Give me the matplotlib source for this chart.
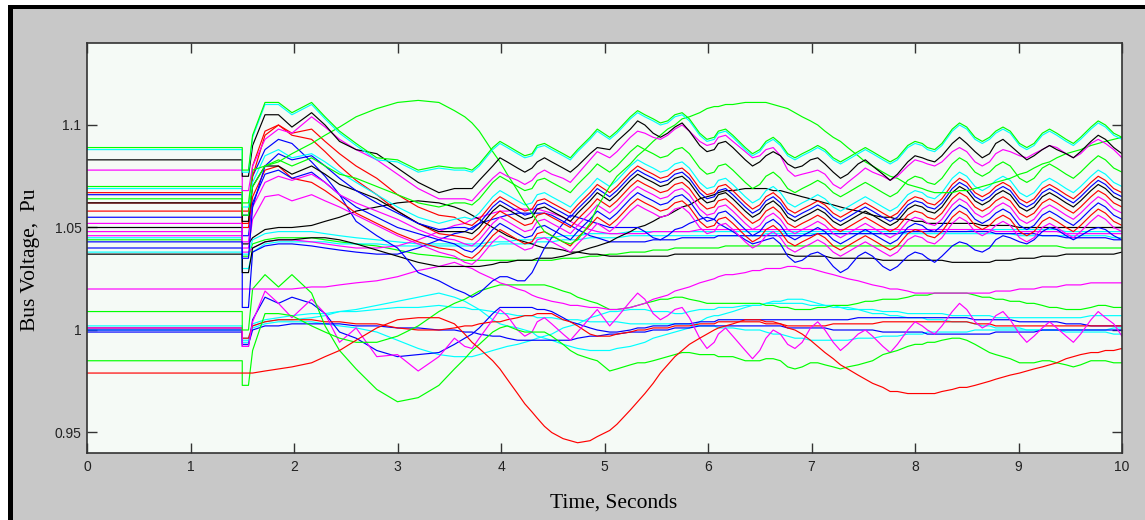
import numpy as np
import matplotlib
matplotlib.use("Agg")
import matplotlib.pyplot as plt
from matplotlib.patches import Rectangle

# Sample instants (s): start, fault step at 1.5 s (before / after), early swing, then the
# electromechanical oscillation read at every crest / trough and on both of its flanks
t = [0, 1.5, 1.5, 1.56, 1.6, 1.72, 1.85, 1.98, 2.17, 2.3, 2.44, 2.6, 2.8, 3.0, 3.2, 3.4, 3.55,
     3.65, 3.72, 3.79, 3.92, 3.99, 4.06, 4.16, 4.23, 4.30, 4.35, 4.42, 4.49, 4.60, 4.67, 4.74,
     4.86, 4.93, 5.05, 5.12,
     5.25, 5.32, 5.39, 5.47, 5.54, 5.61, 5.68, 5.75, 5.82, 5.92, 5.99, 6.06, 6.10, 6.17, 6.24,
     6.36, 6.43, 6.50, 6.56, 6.63, 6.70, 6.77, 6.84, 6.91, 6.99, 7.06, 7.13, 7.21, 7.28, 7.35,
     7.45, 7.52, 7.59, 7.69, 7.76, 7.83, 7.93, 8.00, 8.07, 8.12, 8.19, 8.26, 8.36, 8.43, 8.50,
     8.58, 8.65, 8.72, 8.78, 8.85, 8.92, 9.01, 9.08, 9.15, 9.23, 9.30, 9.37, 9.46, 9.53, 9.60,
     9.70, 9.77, 9.84, 9.92, 10.0]

# Bus voltages, deviation from 1.0 pu in units of 0.001 pu
green_top = [89,89,78,78,95,111,111,106,111,104,97,91,84,83,78,80,79,
    79,78,81, 89,92,90, 87,85,86, 90,91,89, 86,84,88, 94,98, 94,97,
    104,107,105, 103,101,102, 105,106,103, 96,93,94, 97,98,95, 89,86,88, 92,94,91, 86,84,86,
    88,90,88, 84,82,84, 87,89,87, 84,82,84, 90,92,91, 89,88,91, 98,101,99, 94,92,94, 97,99,97,
    91,89,91, 96,98,96, 93,91,94, 99,102,100, 96,94]
cyan_top = [88,88,77,77,94,110,110,105,110,103,96,90,83,82,77,79,78,
    78,77,80, 88,91,89, 86,84,85, 89,90,88, 85,83,87, 93,97, 93,96,
    103,106,104, 102,100,101, 104,105,102, 95,92,93, 96,97,94, 88,85,87, 91,93,90, 85,83,85,
    87,89,87, 83,81,83, 86,88,86, 83,81,83, 89,91,90, 88,87,90, 97,100,98, 93,91,93, 96,98,96,
    90,88,90, 95,97,95, 92,90,93, 98,101,99, 95,93]
black_top = [83,83,75,75,90,105,105,99,106,100,92,88,86,79,72,67,69,
    69,69,73, 80,84,82, 79,77,79, 82,84,82, 79,77,80, 86,89, 88,92,
    98,102,100, 96,94,96, 99,101,97, 90,87,88, 91,92,89, 83,80,82, 85,87,85, 81,79,80,
    83,84,81, 77,74,76, 81,83,80, 76,73,76, 82,85,84, 83,82,85, 91,94,91, 87,84,86, 91,93,90,
    86,83,85, 88,90,88, 86,84,87, 92,95,93, 89,86]
magenta_top = [78,78,68,68,80,93,98,96,104,99,93,88,83,76,69,64,64,
    64,63,67, 74,77,75, 73,71,73, 76,78,76, 74,72,76, 83,87, 84,87,
    94,97,96, 94,93,95, 98,100,97, 92,90,91, 94,95,92, 87,84,85, 88,89,85, 78,75,76,
    77,78,76, 71,69,72, 76,79,77, 75,73,75, 80,83,82, 81,80,82, 87,89,87, 82,80,82, 86,88,87,
    85,84,86, 88,90,89, 86,84,86, 91,93,91, 88,84]
green_arc = [70,70,62,62,78,80,82,86,91,95,99,104,108,111,112,111,107,
    104,101,97, 87,82,76, 68,62,57, 53,48,46, 43,42,44, 52,60, 70,75,
    81,85,88, 92,95,98, 100,103,104, 106,108,109, 109,110,110, 111,111,111, 111,110,109,
    108,106,104, 102,100,97, 94,92,89, 85,82,80, 77,75,74, 71,70,69, 68,67,67, 67,68,68,
    69,70,71, 72,73,74, 76,77,79, 81,82,84, 86,87,88, 90,91,92, 93,94]
green_mid = [64,64,56,56,70,80,83,80,84,80,76,74,70,66,62,60,62,
    62,61,64, 72,75,73, 70,68,69, 73,74,72, 69,67,71, 77,81, 77,80,
    87,90,88, 86,84,85, 88,89,86, 79,76,77, 80,81,78, 72,69,71, 75,77,74, 69,67,69,
    71,73,71, 67,65,67, 70,72,70, 67,65,67, 73,75,74, 72,71,74, 81,84,82, 77,75,77, 80,82,80,
    74,72,74, 79,81,79, 76,74,77, 82,85,83, 79,77]
cyan_mid = [69,69,60,60,72,85,88,84,86,82,77,72,66,60,55,52,54,
    55,54,57, 65,68,66, 63,61,62, 66,67,65, 62,60,64, 70,74, 70,73,
    80,83,81, 79,77,78, 81,82,79, 72,69,70, 73,74,71, 65,62,64, 68,70,67, 62,60,62,
    64,66,64, 60,58,60, 63,65,63, 60,58,60, 66,68,67, 65,64,67, 74,77,75, 70,68,70, 73,75,73,
    67,65,67, 72,74,72, 69,67,70, 75,78,76, 72,70]
red_mid1 = [67,67,58,58,75,95,100,96,98,92,86,80,74,66,60,56,55,
    52,51,54, 62,65,63, 60,58,59, 63,64,62, 59,57,61, 67,71, 67,70,
    77,80,78, 76,74,75, 78,79,76, 69,66,67, 70,71,68, 62,59,61, 65,67,64, 59,57,59,
    61,63,61, 57,55,57, 60,62,60, 57,55,57, 63,65,64, 62,61,64, 71,74,72, 67,65,67, 70,72,70,
    64,62,64, 69,71,69, 66,64,67, 72,75,73, 69,67]
blue_mid1 = [43,43,35,35,60,80,86,83,85,80,74,68,62,57,52,49,50,
    50,49,52, 60,63,61, 58,56,57, 61,62,60, 57,55,59, 65,69, 65,68,
    75,78,76, 74,72,73, 76,77,74, 67,64,65, 68,69,66, 60,57,59, 63,65,62, 57,55,57,
    59,61,59, 55,53,55, 58,60,58, 55,53,55, 61,63,62, 60,59,62, 69,72,70, 65,63,65, 68,70,68,
    62,60,62, 67,69,67, 64,62,65, 70,73,71, 67,65]
black_mid = [62,62,53,53,70,80,80,76,80,76,71,68,64,58,52,48,48,
    48,47,50, 58,61,59, 56,54,55, 59,60,58, 55,53,57, 63,67, 63,66,
    73,76,74, 72,70,71, 74,75,72, 65,62,63, 66,67,64, 58,55,57, 61,63,60, 55,53,55,
    57,59,57, 53,51,53, 56,58,56, 53,51,53, 59,61,60, 58,57,60, 67,70,68, 63,61,63, 66,68,66,
    60,58,60, 65,67,65, 62,60,63, 68,71,69, 65,63]
red_mid2 = [62,62,52,52,80,97,100,95,93,87,80,73,66,58,52,47,46,
    45,44,47, 55,58,56, 53,51,52, 56,57,55, 52,50,54, 60,64, 60,63,
    70,73,71, 69,67,68, 71,72,69, 62,59,60, 63,64,61, 55,52,54, 58,60,57, 52,50,52,
    54,56,54, 50,48,50, 53,55,53, 50,48,50, 56,58,57, 55,54,57, 64,67,65, 60,58,60, 63,65,63,
    57,55,57, 62,64,62, 59,57,60, 65,68,66, 62,60]
magenta_mid1 = [52,52,43,43,60,72,75,73,76,72,66,62,58,54,49,45,44,
    42,41,44, 52,55,53, 50,48,49, 53,54,52, 49,47,51, 57,61, 57,60,
    67,70,68, 66,64,65, 68,69,66, 59,56,57, 60,61,58, 52,49,51, 55,57,54, 49,47,49,
    51,53,51, 47,45,47, 50,52,50, 47,45,47, 53,55,54, 52,51,54, 61,64,62, 57,55,57, 60,62,60,
    54,52,54, 59,61,59, 56,54,57, 62,65,63, 59,57]
blue_mid2 = [55,55,46,46,62,76,78,74,77,72,66,60,55,50,47,44,42,
    39,38,41, 49,52,50, 47,45,46, 50,51,49, 46,44,48, 54,58, 54,57,
    64,67,65, 63,61,62, 65,66,63, 56,53,54, 57,58,55, 49,46,48, 52,54,51, 46,44,46,
    48,50,48, 44,42,44, 47,49,47, 44,42,44, 50,52,51, 49,48,51, 58,61,59, 54,52,54, 57,59,57,
    51,49,51, 56,58,56, 53,51,54, 59,62,60, 56,54]
red_mid3 = [58,58,50,50,65,78,80,74,72,68,63,57,52,47,43,40,39,
    36,35,38, 46,49,47, 44,42,43, 47,48,46, 43,41,45, 51,55, 51,54,
    61,64,62, 60,58,59, 62,63,60, 53,50,51, 54,55,52, 46,43,45, 49,51,48, 43,41,43,
    45,47,45, 41,39,41, 44,46,44, 41,39,41, 47,49,48, 46,45,48, 55,58,56, 51,49,51, 54,56,54,
    48,46,48, 53,55,53, 50,48,51, 56,59,57, 53,51]
magenta_mid2 = [48,48,40,40,54,65,66,63,66,63,60,56,51,46,42,38,36,
    33,32,35, 43,46,44, 41,39,40, 44,45,43, 40,38,42, 48,52, 48,51,
    58,61,59, 57,55,56, 59,60,57, 50,47,48, 51,52,49, 43,40,42, 46,48,45, 40,38,40,
    42,44,42, 38,36,38, 41,43,41, 38,36,38, 44,46,45, 43,42,45, 52,55,53, 48,46,48, 51,53,51,
    45,43,45, 50,52,50, 47,45,48, 53,56,54, 50,48]
blue_swing = [66,66,56,56,75,88,93,91,82,75,66,53,46,40,28,24,20,
    18,16,18, 24,26,26, 24,24,28, 33,40,45, 52,56,55, 53,52, 50,50,
    50,50,48, 45,44,46, 49,50,52, 54,55,54, 52,50,48, 44,42,43, 44,45,42, 36,33,34,
    37,38,36, 31,28,30, 36,38,36, 31,29,31, 36,38,37, 35,33,36, 41,43,42, 39,38,40, 44,46,45,
    43,42,44, 48,50,49, 46,44,46, 49,50,49, 46,44]
black_low1 = [37,37,28,28,40,43,44,44,45,45,44,42,39,36,33,31,31,
    31,31,31, 32,33,33, 34,34,34, 35,35,35, 36,37,38, 40,41, 43,45,
    48,50,51, 53,55,56, 58,60,61, 64,65,66, 67,68,68, 69,69,69, 69,68,68, 67,66,65,
    64,63,62, 61,60,59, 58,57,56, 55,55,54, 54,53,53, 52,52,52, 52,52,52, 52,51,51, 51,51,51,
    50,50,50, 50,50,50, 50,50,50, 50,50,50, 50,50]
black_low2 = [50,50,42,42,45,49,50,50,51,53,55,58,60,62,63,62,60,
    58,56,54, 50,48,46, 44,43,42, 41,40,40, 39,38,38, 37,37, 36,36,
    36,36,36, 36,36,36, 37,37,37, 37,37,37, 37,37,37, 37,37,37, 37,37,37, 37,36,36,
    36,36,36, 35,35,35, 35,35,35, 34,34,34, 34,34,34, 34,34,34, 33,33,33, 33,33,33, 34,34,34,
    35,35,35, 36,36,36, 37,37,37, 37,37,37, 37,38]
blue_low = ([40,40,11,11,38,41,42,42,41,40,39,38,37,37,40,44,47,
    48,50,52, 54,55,56, 57,57,57, 57,57,56, 53,51,49, 46,45, 43,43,
    43,43,43, 44,44,44, 44,45,45, 45,45,45] + [46] * 12 + [46,47,47] + [47] * 9
    + [48] * 12 + [47] * 6 + [46,46,46] + [45] * 6 + [44,44])
magenta_low = ([46,46,38,38,40,43,44,44,43,42,41,40,40,41,44,48,51,
    52,54,55, 57,58,58, 59,59,59, 59,58,57, 55,53,51, 49,48, 47,47,
    47,47,47, 48,48,48, 48,48,48] + [49] * 39 + [48] * 9 + [47] * 6 + [47,47])
cyan_low1 = ([38,38,30,30,38,42,43,43,43,43,42,42,42,41,41,41,41,
    41,41,41, 41,42,42, 42,42,42, 43,43,43, 44,44,44, 45,45, 45,45]
    + [46] * 18 + [47] * 33 + [46] * 12 + [45,45])
cyan_low2 = ([45,45,37,37,44,47,48,48,48,47,46,45,44,43,42,42,42,
    42,42,42, 43,43,43, 44,44,44, 45,45,45, 46,46,46, 47,47, 47,47]
    + [48] * 45 + [49] * 12 + [48] * 6 + [48,48])
green_low = ([44,44,36,36,42,44,45,45,45,44,43,42,41,39,37,36,35,
    34,34,34, 34,34,34, 34,34,34, 34,34,34, 35,35,35, 36,36, 37,37,
    38,38,38, 39,39,39, 40,40,40, 40,40,40, 40,41,41] + [41] * 42 + [40] * 6 + [40,40])
magenta_102 = [20,20,20,20,20,20,20,20,21,21,22,23,24,26,29,31,33,
    31,30,28, 25,23,22, 20,19,17, 16,15,14, 13,12,12, 11,11, 10,10,
    11,12,13, 15,16,17, 19,20,21, 23,24,25, 26,27,27, 28,29,29, 30,30,30, 31,31,30,
    30,29,28, 27,26,25, 24,23,22, 21,20,20, 19,18,18, 18,18,18, 18,18,18, 18,18,18, 19,19,19,
    20,20,20, 21,21,21, 22,22,22, 23,23,23, 23,23]
green_dip = [9,9,0,0,20,27,21,27,18,2,-10,-19,-29,-35,-33,-27,-19,
    -14,-10,-7, -1,1,2, 0,-1,-1, -1,-1,-3, -7,-10,-12, -14,-15, -20,-19,
    -17,-16,-16, -15,-14,-13, -12,-11,-11, -12,-12,-12, -13,-13,-13, -15,-15,-15, -14,-14,-15,
    -18,-19,-18, -16,-16,-17, -18,-19,-18, -17,-16,-15, -12,-11,-10, -8,-7,-7, -6,-6,-5,
    -4,-4,-5, -7,-9,-11, -12,-13,-14, -16,-16,-16, -15,-15,-16, -17,-18,-17, -15,-15,-15, -16,-16]
green_098 = [-15,-15,-27,-27,-10,8,8,7,2,-1,-4,-6,-6,-3,2,9,13,
    15,17,19, 21,22,22, 22,22,22, 22,22,21, 19,18,16, 14,13, 10,10,
    11,12,13, 14,15,15, 16,16,15, 14,13,13, 13,13,13, 13,13,13, 12,12,11, 11,10,10,
    10,11,11, 12,12,12, 13,14,14, 15,15,15, 16,17,17, 17,18,18, 18,18,18, 17,16,16, 15,15,14,
    14,13,13, 12,11,11, 10,10,10, 11,12,12, 11,11]
red_dip = [-21,-21,-21,-21,-21,-20,-19,-18,-16,-13,-10,-5,1,5,6,6,3,
    -2,-6,-9, -15,-19,-24, -31,-36,-40, -43,-47,-50, -53,-54,-55, -54,-52, -49,-46,
    -39,-35,-31, -26,-21,-17, -13,-10,-7, -4,-2,0, 1,2,3, 5,5,5, 4,4,3, 1,0,-2,
    -5,-8,-11, -14,-17,-19, -22,-24,-26, -28,-30,-30, -31,-31,-31, -31,-31,-30, -29,-28,-28,
    -27,-26,-25, -24,-23,-22, -21,-20,-19, -18,-17,-16, -14,-13,-12, -11,-11,-10, -10,-9]
red_100 = [1,1,-4,-4,2,4,5,5,5,4,4,3,3,1,0,0,1,
    2,2,3, 4,4,5, 6,7,7, 8,8,8, 5,4,2, -2,-3, -3,-2,
    -1,0,0, 1,1,1, 2,2,2, 3,3,3, 4,4,4, 4,4,4, 3,3,3, 2,2,2, 2,2,2, 3,3,3, 3,3,3,
    4,4,4, 4,4,4, 4,4,4, 4,4,4, 3,3,3, 2,2,2, 2,2,2, 2,2,2, 2,2,2, 2,2,2, 2,2]
magenta_osc = [1,1,-8,-8,4,19,13,6,15,8,-6,1,-13,-12,-20,-13,-4,
    -8,-9,-4, 5,10,7, 0,-3,-1, 4,6,3, -2,-5,-1, 6,10, 2,6,
    14,18,15, 8,5,7, 10,11,6, -4,-9,-6, -2,1,-3, -10,-14,-10, -4,0,-2, -7,-9,-6,
    1,4,0, -6,-10,-7, -2,0,-3, -8,-11,-7, 0,4,2, 0,-2,2, 9,13,10, 4,1,3, 7,9,5,
    -2,-6,-3, 1,4,1, -3,-6,-2, 5,9,6, 3,-3]
blue_100a = [0,0,-8,-8,5,16,13,16,13,8,-1,-4,-10,-13,-12,-11,-7,
    -4,-2,1, 8,11,11, 11,11,11, 10,10,9, 6,4,3, 1,0, -1,-1,
    0,1,1, 2,2,2, 3,3,3, 4,4,4, 5,5,5, 5,5,5, 5,5,5, 5,5,5, 5,5,5, 5,5,5, 6,6,6,
    6,6,6, 6,6,6, 6,6,6, 6,6,6, 5,5,5, 5,5,5, 4,4,4, 4,4,4, 3,3,3, 2,2,2, 2,2]
blue_100b = [-1,-1,-7,-7,0,2,2,3,3,3,3,2,2,1,1,0,0,
    -1,-1,-2, -3,-3,-4, -5,-5,-5, -5,-5,-5, -5,-5,-4, -3,-3, -2,-2,
    -1,-1,-1, 0,0,0, 1,1,1, 2,2,2, 2,2,2, 2,2,2, 2,2,2, 1,1,1, 1,1,1, 0,0,0, 0,0,0,
    -1,-1,-1, -1,-1,-1, -2,-2,-2, -2,-2,-2, -2,-2,-2, -1,-1,-1, -1,-1,-1, 0,0,0, 0,0,0,
    0,0,0, 0,0]
cyan_100a = [1,1,-6,-6,2,4,5,5,6,7,9,10,12,14,16,18,16,
    14,12,10, 5,3,2, 1,0,-1, -3,-4,-5, -7,-8,-9, -10,-10, -10,-9,
    -8,-7,-6, -4,-3,-2, -1,0,1, 4,6,7, 7,8,9, 11,12,12, 13,14,14, 15,15,15, 14,13,12,
    12,11,10, 10,9,8, 8,7,7, 6,6,6, 5,5,5, 4,4,4, 3,2,2, 1,1,1, 1,0,0, 0,0,0, 0,0,0,
    0,0,0, 1,1]
cyan_100b = [0,0,-5,-5,1,3,4,4,4,3,2,1,-1,-5,-9,-12,-13,
    -13,-13,-12, -10,-9,-8, -7,-6,-5, -4,-3,-2, 1,2,3, 6,7, 9,9,
    10,10,10, 9,9,9, 8,8,9, 10,10,10, 11,11,11, 12,12,12, 13,13,13, 13,13,13, 12,12,12,
    11,11,11, 10,10,10, 9,9,9, 8,8,8, 8,8,8, 7,7,7, 7,7,7, 6,6,6, 6,6,6, 6,6,6, 6,6,6,
    7,7,7, 7,7]
cyan_100c = [2,2,-4,-4,3,5,6,7,8,8,9,9,10,11,11,12,11,
    11,10,10, 9,8,8, 7,7,7, 6,6,6, 5,5,5, 4,4, 4,4,
    3,3,3, 3,3,3, 3,3,3, 2,2,2, 1,1,1, 0,0,0, -1,-2,-2, -3,-4,-4, -5,-5,-5, -5,-5,-5,
    -4,-4,-4, -3,-3,-3, -2,-2,-2, -1,-1,-1, -1,-1,-1, 0,0,0, 0,0,0, 0,0,0, 0,0,0,
    -1,-1,-1, -1,-1,-1, -2,-2]

x_ticks = [0, 1, 2, 3, 4, 5, 6, 7, 8, 9, 10]
y_ticks = [0.95, 1.0, 1.05, 1.1]
y_tick_labels = ["0.95", "1", "1.05", "1.1"]

GREEN, CYAN, RED, BLUE, MAGENTA, BLACK = "#00ff00", "#00ffff", "#ff0000", "#0000ff", "#ff00ff", "#000000"

# draw order: lower group first, upper cluster last
traces = [
    (cyan_100a, CYAN), (cyan_100b, CYAN), (cyan_100c, CYAN),
    (blue_100a, BLUE), (blue_100b, BLUE), (red_100, RED), (magenta_osc, MAGENTA),
    (green_098, GREEN), (green_dip, GREEN), (red_dip, RED), (magenta_102, MAGENTA),
    (green_low, GREEN), (cyan_low1, CYAN), (cyan_low2, CYAN), (magenta_low, MAGENTA),
    (blue_low, BLUE), (black_low2, BLACK), (black_low1, BLACK), (blue_swing, BLUE),
    (magenta_mid2, MAGENTA), (red_mid3, RED), (blue_mid2, BLUE), (magenta_mid1, MAGENTA),
    (red_mid2, RED), (black_mid, BLACK), (blue_mid1, BLUE), (red_mid1, RED),
    (cyan_mid, CYAN), (green_mid, GREEN), (green_arc, GREEN), (magenta_top, MAGENTA),
    (black_top, BLACK), (cyan_top, CYAN), (green_top, GREEN),
]

W, H = 1145, 520
fig = plt.figure(figsize=(W / 100, H / 100), dpi=100, facecolor="white")

# grey window frame with a dark edge on top and left
fig.patches.append(Rectangle((8 / W, 0), 1 - 8 / W, 1 - 5 / H, transform=fig.transFigure,
                             facecolor="#c8c8c8", edgecolor="none", zorder=-2))
fig.patches.append(Rectangle((8 / W, 1 - 9 / H), 1 - 8 / W, 4 / H, transform=fig.transFigure,
                             facecolor="black", edgecolor="none", zorder=-1))
fig.patches.append(Rectangle((8 / W, 0), 4.5 / W, 1 - 5 / H, transform=fig.transFigure,
                             facecolor="black", edgecolor="none", zorder=-1))

ax = fig.add_axes([87 / W, 1 - 453 / H, (1122 - 87) / W, (453 - 43) / H])
ax.set_facecolor("#f5faf6")

tt = np.array(t)
for vals, col in traces:
    ax.plot(tt, 1.0 + np.array(vals) / 1000.0, color=col, lw=0.85, solid_joinstyle="round")

ax.set_xlim(0, 10)
ax.set_ylim(0.94, 1.14)
ax.set_xticks(x_ticks)
ax.set_xticklabels([str(v) for v in x_ticks])
ax.set_yticks(y_ticks)
ax.set_yticklabels(y_tick_labels)
ax.tick_params(direction="in", length=7.5, width=1.0, color="#333333",
               top=True, right=True, labelsize=10, labelcolor="#222222")
ax.tick_params(axis="x", pad=5)
ax.tick_params(axis="y", pad=4)
for lab in ax.get_xticklabels() + ax.get_yticklabels():
    lab.set_family("Liberation Sans")
for s in ax.spines.values():
    s.set_color("#333333")
    s.set_linewidth(1.2)

fig.text(614 / W, 1 - 503 / H, "Time, Seconds", ha="center", va="center",
         family="Liberation Serif", fontsize=15.5, color="black")
fig.text(31 / W, 1 - 260 / H, "Bus Voltage,  Pu", ha="center", va="center", rotation=90,
         family="Liberation Serif", fontsize=15.5, color="black")

fig.savefig("out.png", dpi=100, facecolor=fig.get_facecolor())
